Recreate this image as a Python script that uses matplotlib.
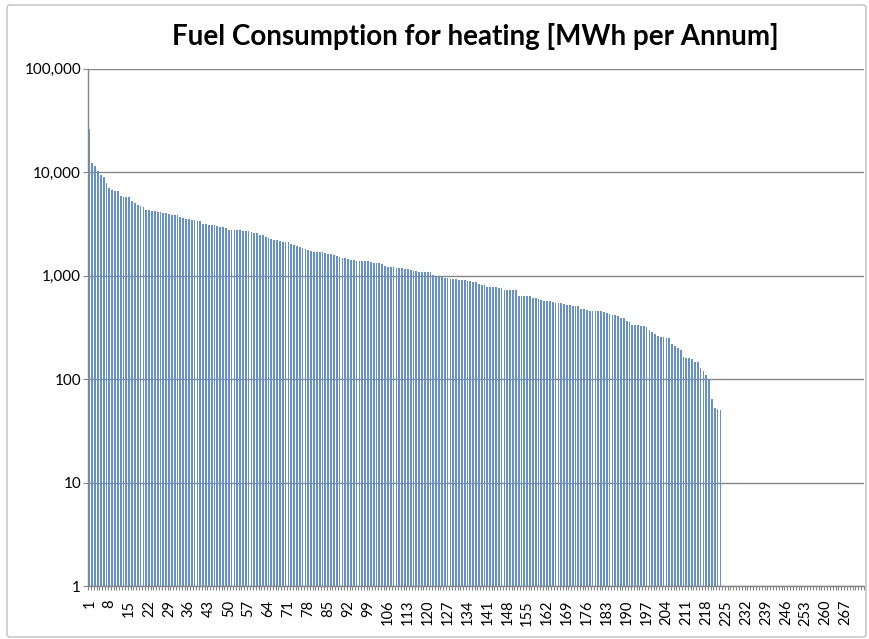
import numpy as np
import matplotlib.pyplot as plt
from matplotlib.patches import FancyBboxPatch
from matplotlib.ticker import FuncFormatter, FixedLocator

plt.rcParams['font.family'] = ['Lato', 'DejaVu Sans']

title = 'Fuel Consumption for heating [MWh per Annum]'

# number of categories on the axis (224..273 have no consumption)
n_categories = 273

# fuel consumption per site, MWh per annum, sorted descending
consumption = [
    26000, 12200, 11600, 10300, 9400, 9070, 7830, 7000, 6800, 6650,
    6650, 5900, 5800, 5730, 5730, 5320, 5010, 4800, 4720, 4590,
    4330, 4330, 4200, 4200, 4130, 4100, 4040, 4020, 3930, 3900,
    3870, 3840, 3730, 3590, 3540, 3515, 3480, 3420, 3360, 3360,
    3185, 3185, 3120, 3097, 3097, 3027, 2980, 2937, 2875, 2787,
    2787, 2787, 2747, 2747, 2707, 2690, 2690, 2667, 2590, 2590,
    2477, 2460, 2370, 2300, 2250, 2233, 2200, 2170, 2138, 2138,
    2138, 2028, 2000, 1940, 1897, 1870, 1830, 1763, 1725, 1698,
    1698, 1698, 1687, 1660, 1637, 1625, 1578, 1553, 1520, 1475,
    1475, 1452, 1432, 1432, 1400, 1380, 1380, 1380, 1380, 1358,
    1340, 1340, 1318, 1300, 1253, 1216, 1216, 1216, 1198, 1198,
    1180, 1155, 1155, 1138, 1120, 1104, 1088, 1088, 1088, 1088,
    1081, 1012, 973, 973, 967, 952, 945, 931, 931, 924,
    917, 910, 904, 891, 885, 871, 865, 839, 820, 820,
    785, 785, 780, 774, 768, 762, 734, 729, 729, 724,
    724, 643, 638, 638, 634, 634, 614, 610, 597, 584,
    567, 567, 567, 562, 550, 542, 542, 530, 518, 518,
    514, 507, 507, 481, 474, 464, 460, 460, 460, 460,
    454, 450, 437, 424, 418, 415, 406, 391, 391, 363,
    358, 335, 335, 332, 327, 323, 318, 297, 284, 272,
    262, 258, 254, 249, 247, 219, 208, 198, 192, 165,
    160, 160, 156, 147, 146, 128, 120, 110, 101, 64,
    53, 51, 50,
]

y_ticks = [1, 10, 100, 1000, 10000, 100000]

fig = plt.figure(figsize=(8.7, 6.39), dpi=100)
ax = fig.add_axes([88 / 870, 1 - 586 / 639, 776 / 870, (586 - 68.8) / 639])

# chart area border
fig.patches.append(FancyBboxPatch((7 / 870, 2 / 639), 859 / 870, 632 / 639,
                                  boxstyle='round,pad=0,rounding_size=0.004',
                                  transform=fig.transFigure, facecolor='none',
                                  edgecolor='#BFBFBF', linewidth=1.0))

x = np.arange(1, len(consumption) + 1)
ax.bar(x, consumption, width=0.62, color='#6690CB', edgecolor='none', zorder=2)

ax.set_yscale('log')
ax.set_ylim(1, 100000)
ax.set_xlim(0.5, n_categories + 0.5)
ax.yaxis.set_major_locator(FixedLocator(y_ticks))
ax.yaxis.set_minor_locator(FixedLocator([]))
ax.yaxis.set_major_formatter(FuncFormatter(lambda v, p: '{:,.0f}'.format(v)))
ax.grid(axis='y', color='#868686', linewidth=1.0, zorder=1)

label_pos = np.arange(1, n_categories + 1, 7)
ax.set_xticks(label_pos)
ax.set_xticklabels([str(i) for i in label_pos], rotation=90, fontsize=10.5)
ax.set_xticks(np.arange(0.5, n_categories + 1, 1), minor=True)
ax.tick_params(axis='x', which='major', length=0, pad=10)
ax.tick_params(axis='x', which='minor', length=3, color='#868686', width=0.8)
ax.tick_params(axis='y', length=3.5, color='#868686', pad=1.5, labelsize=11)

for s in ['top', 'right']:
    ax.spines[s].set_visible(False)
for s in ['left', 'bottom']:
    ax.spines[s].set_color('#868686')
    ax.spines[s].set_linewidth(1.0)

fig.text(475 / 870, 1 - 37 / 639, title, ha='center', va='center',
         fontsize=20, fontweight='bold')

fig.savefig('out.png', dpi=100)
